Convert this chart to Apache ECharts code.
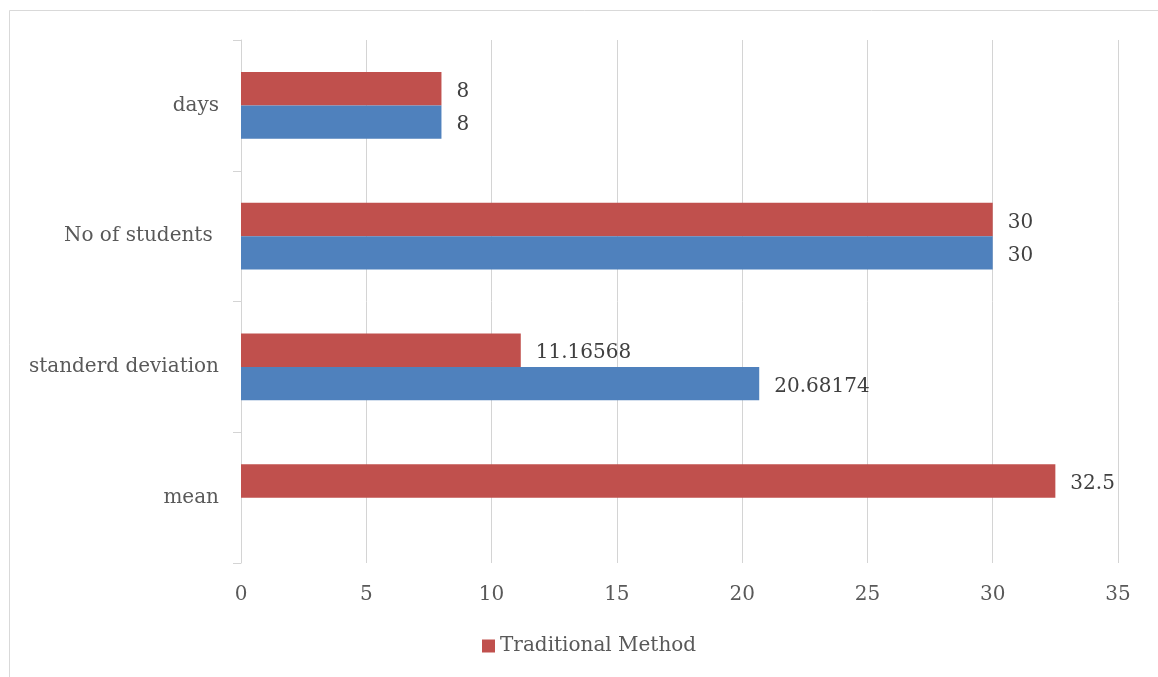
<!DOCTYPE html>
<html>
<head>
<meta charset="utf-8">
<script src="https://cdn.jsdelivr.net/npm/echarts@6/dist/echarts.min.js"></script>
<style>
  html, body { margin: 0; padding: 0; background: #fff; }
  #chart { width: 1158px; height: 677px; }
</style>
</head>
<body>
<div id="chart"></div>
<script>
// Categories listed bottom to top along the vertical axis
const categories = ['mean', 'standerd deviation', 'No of students ', 'days'];
const traditionalValues = [32.5, 11.16568, 30, 8];
const secondValues = [null, 20.68174, 30, 8];
const xTicks = { min: 0, max: 35, interval: 5 };

const FONT = 'DejaVu Serif';
const GRID = '#d4d4d4';

const chart = echarts.init(document.getElementById('chart'), null, { renderer: 'canvas' });

const labelStyle = {
  show: true,
  position: 'right',
  distance: 15,
  offset: [0, 3],
  color: '#404040',
  fontFamily: FONT,
  fontSize: 20,
  formatter: p => (p.value == null ? '' : String(p.value))
};

chart.setOption({
  animation: false,
  backgroundColor: '#fff',
  graphic: [{
    type: 'rect',
    shape: { x: 9.5, y: 10.5, width: 1200, height: 700 },
    style: { fill: 'none', stroke: '#d9d9d9', lineWidth: 1 },
    silent: true
  }],
  grid: { left: 241, right: 40, top: 40, bottom: 114 },
  legend: {
    data: ['Traditional Method'],
    left: 477,
    top: 631,
    icon: 'rect',
    itemWidth: 13,
    itemHeight: 13,
    itemGap: 5,
    textStyle: { color: '#595959', fontFamily: FONT, fontSize: 20 }
  },
  xAxis: {
    type: 'value',
    min: xTicks.min,
    max: xTicks.max,
    interval: xTicks.interval,
    axisLine: { show: false },
    axisTick: { show: false },
    splitLine: { lineStyle: { color: GRID, width: 1 } },
    axisLabel: { color: '#595959', fontFamily: FONT, fontSize: 20, margin: 22 }
  },
  yAxis: {
    type: 'category',
    data: categories,
    axisLine: { lineStyle: { color: GRID, width: 1 } },
    axisTick: { show: true, length: 8, lineStyle: { color: GRID } },
    axisLabel: {
      color: '#595959', fontFamily: FONT, fontSize: 20, margin: 22,
      padding: [6, 0, 0, 0]
    }
  },
  series: [
    {
      name: 'Traditional Method',
      type: 'bar',
      data: traditionalValues,
      itemStyle: { color: '#C0504D' },
      barGap: '0%',
      barCategoryGap: '48.8%',
      label: labelStyle
    },
    {
      name: 'Series 2',
      type: 'bar',
      data: secondValues,
      itemStyle: { color: '#4F81BD' },
      barGap: '0%',
      barCategoryGap: '48.8%',
      label: labelStyle
    }
  ]
});
</script>
</body>
</html>
